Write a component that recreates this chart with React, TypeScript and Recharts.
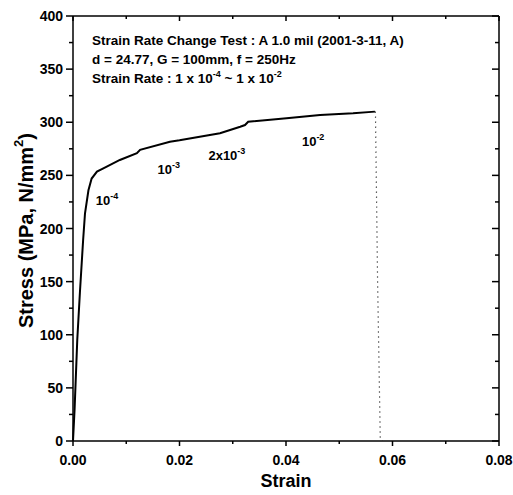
import { LineChart, Line, XAxis, YAxis, ReferenceDot } from "recharts";

// stress-strain curve
const strain = [
  0, 0.0003, 0.0008, 0.0013, 0.0019, 0.00225, 0.0029, 0.0035, 0.0045, 0.0057,
  0.0088, 0.012, 0.0126, 0.0182, 0.02, 0.0276, 0.0314, 0.0323, 0.0329, 0.0401,
  0.0464, 0.0526, 0.0567,
];
const stress = [
  0, 30, 95, 140, 189, 214, 236, 247, 253.5, 256.6, 264.5, 270.8, 274, 281.7,
  283, 289.6, 295.8, 297.4, 300.5, 303.7, 306.8, 308.4, 310,
];

// fracture (dotted drop)
const fractureStrain = [0.0568, 0.0572, 0.0577, 0.0581];
const fractureStress = [310, 150, 3, 0];

const xTicks = [0, 0.01, 0.02, 0.03, 0.04, 0.05, 0.06, 0.07, 0.08];
const yTicks = [
  0, 25, 50, 75, 100, 125, 150, 175, 200, 225, 250, 275, 300, 325, 350, 375, 400,
];

// strain rate labels on the curve
const rateStrain = [0.0064, 0.018, 0.0289, 0.0451];
const rateStress = [227, 256, 269, 282];
const rateBase = ["10", "10", "2x10", "10"];
const rateExp = ["-4", "-3", "-3", "-2"];

const headerLines = [
  "Strain Rate Change Test : A 1.0 mil (2001-3-11, A)",
  "d = 24.77, G = 100mm, f = 250Hz",
];

const FONT = "Arial, 'Liberation Sans', sans-serif";

const curve = strain.map((s, i) => ({ strain: s, stress: stress[i] }));
const fracture = fractureStrain.map((s, i) => ({ strain: s, stress: fractureStress[i] }));

const isMajorX = (v: number) => Math.round(v * 100) % 2 === 0;
const isMajorY = (v: number) => Math.round(v) % 50 === 0;

const BottomTick = ({ x, y, payload }: any) => {
  const major = isMajorX(payload.value);
  return (
    <g>
      <line x1={x} y1={y} x2={x} y2={y + (major ? 5 : 3)} stroke="#000" strokeWidth={1.5} />
      {major && (
        <text x={x} y={y + 24} textAnchor="middle" fontSize={14} fontWeight="bold" fontFamily={FONT} fill="#000">
          {payload.value.toFixed(2)}
        </text>
      )}
    </g>
  );
};

const TopTick = ({ x, y, payload }: any) => {
  const major = isMajorX(payload.value);
  return <line x1={x} y1={y} x2={x} y2={y + (major ? 5 : 3)} stroke="#000" strokeWidth={1.5} />;
};

const LeftTick = ({ x, y, payload }: any) => {
  const major = isMajorY(payload.value);
  return (
    <g>
      <line x1={x} y1={y} x2={x - (major ? 7 : 4)} y2={y} stroke="#000" strokeWidth={1.5} />
      {major && (
        <text x={x - 10} y={y + 5} textAnchor="end" fontSize={14} fontWeight="bold" fontFamily={FONT} fill="#000">
          {payload.value}
        </text>
      )}
    </g>
  );
};

const RightTick = ({ x, y, payload }: any) => {
  const major = isMajorY(payload.value);
  return <line x1={x} y1={y} x2={x - (major ? 7 : 4)} y2={y} stroke="#000" strokeWidth={1.5} />;
};

const XTitle = ({ viewBox }: any) => (
  <text x={viewBox.x + viewBox.width / 2} y={viewBox.y + 46} textAnchor="middle" fontSize={18} fontWeight="bold" fontFamily={FONT} fill="#000">
    Strain
  </text>
);

const YTitle = ({ viewBox }: any) => {
  const cx = viewBox.x + 26;
  const cy = viewBox.y + viewBox.height / 2 + 2;
  return (
    <text x={cx} y={cy} transform={`rotate(-90 ${cx} ${cy})`} textAnchor="middle" dominantBaseline="central" fontSize={20} fontWeight="bold" fontFamily={FONT} fill="#000">
      Stress (MPa, N/mm
      <tspan dy={-8} fontSize={13}>2</tspan>
      <tspan dy={8}>)</tspan>
    </text>
  );
};

const Header = ({ viewBox }: any) => {
  const x = viewBox.x + 19;
  const y = viewBox.y + viewBox.height;
  return (
    <g fontSize={13.5} fontWeight="bold" fontFamily={FONT} fill="#000">
      {headerLines.map((t, i) => (
        <text key={i} x={x} y={y + 29 + i * 19}>
          {t}
        </text>
      ))}
      <text x={x} y={y + 67}>
        Strain Rate : 1 x 10
        <tspan dy={-6} fontSize={9}>-4</tspan>
        <tspan dy={6}> ~ 1 x 10</tspan>
        <tspan dy={-6} fontSize={9}>-2</tspan>
      </text>
    </g>
  );
};

const rateLabel = (i: number) => ({ viewBox }: any) => (
  <text x={viewBox.x} y={viewBox.y + 5} textAnchor="middle" fontSize={13} fontWeight="bold" fontFamily={FONT} fill="#000">
    {rateBase[i]}
    <tspan dy={-6} fontSize={9}>{rateExp[i]}</tspan>
  </text>
);

export default function App() {
  return (
    <div style={{ position: "absolute", left: 0, top: 0, background: "#fff" }}>
      <LineChart width={513} height={495} margin={{ top: 0, right: 0, bottom: 0, left: 0 }}>
        <XAxis
          xAxisId="bottom"
          dataKey="strain"
          type="number"
          domain={[0, 0.08]}
          ticks={xTicks}
          interval={0}
          height={54}
          tickSize={0}
          tickMargin={0}
          tickLine={false}
          axisLine={{ stroke: "#000", strokeWidth: 1.5 }}
          tick={<BottomTick />}
          label={XTitle}
        />
        <XAxis
          xAxisId="top"
          orientation="top"
          dataKey="strain"
          type="number"
          domain={[0, 0.08]}
          ticks={xTicks}
          interval={0}
          height={16}
          tickSize={0}
          tickMargin={0}
          tickLine={false}
          axisLine={{ stroke: "#000", strokeWidth: 1.5 }}
          tick={<TopTick />}
          label={Header}
        />
        <YAxis
          yAxisId="left"
          dataKey="stress"
          type="number"
          domain={[0, 400]}
          ticks={yTicks}
          interval={0}
          width={73}
          tickSize={0}
          tickMargin={0}
          tickLine={false}
          axisLine={{ stroke: "#000", strokeWidth: 1.5 }}
          tick={<LeftTick />}
          label={YTitle}
        />
        <YAxis
          yAxisId="right"
          orientation="right"
          dataKey="stress"
          type="number"
          domain={[0, 400]}
          ticks={yTicks}
          interval={0}
          width={14}
          tickSize={0}
          tickMargin={0}
          tickLine={false}
          axisLine={{ stroke: "#000", strokeWidth: 1.5 }}
          tick={<RightTick />}
        />
        <Line
          xAxisId="bottom"
          yAxisId="left"
          data={curve}
          dataKey="stress"
          type="linear"
          stroke="#000"
          strokeWidth={2}
          dot={false}
          isAnimationActive={false}
        />
        <Line
          xAxisId="top"
          yAxisId="right"
          data={fracture}
          dataKey="stress"
          type="linear"
          stroke="#000"
          strokeWidth={1.2}
          strokeDasharray="1 4"
          dot={false}
          isAnimationActive={false}
        />
        {rateStrain.map((s, i) => (
          <ReferenceDot
            key={i}
            xAxisId="bottom"
            yAxisId="left"
            x={s}
            y={rateStress[i]}
            r={0}
            fill="none"
            stroke="none"
            label={rateLabel(i)}
          />
        ))}
      </LineChart>
    </div>
  );
}
